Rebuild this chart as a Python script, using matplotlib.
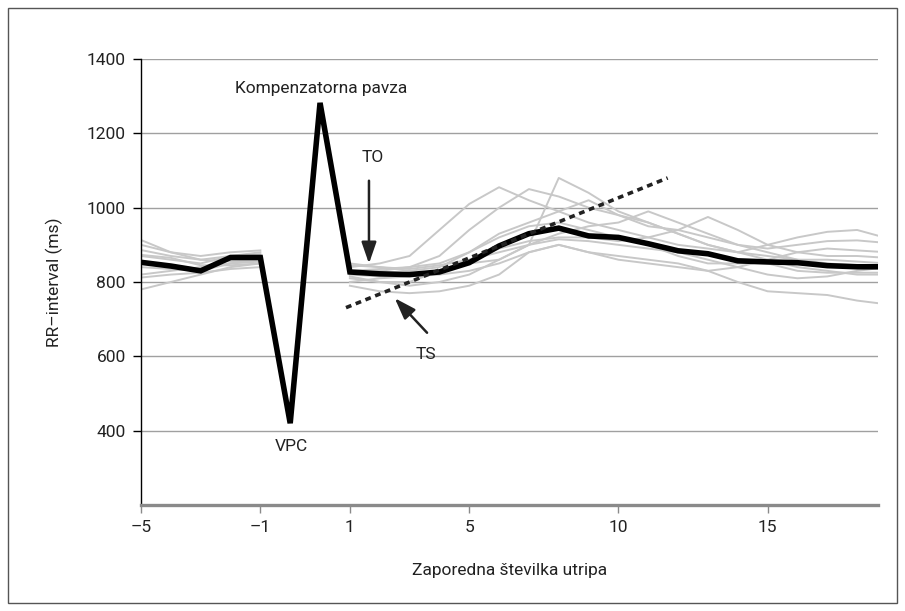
import numpy as np
import matplotlib.pyplot as plt
from matplotlib.patches import Rectangle

plt.rcParams['font.family'] = ['Roboto', 'DejaVu Sans']

# beat labels: 5 beats before VPC, VPC, compensatory pause, 19 beats after
pre_beats = [-5, -4, -3, -2, -1]
post_beats = list(range(1, 20))

# mean tachogram (black line): pre, VPC, pause, post
mean_pre = [853, 843, 830, 866, 866]
mean_vpc = 420
mean_pause = 1282
mean_post = [827, 822, 820, 827, 852, 897, 930, 945, 924, 920, 903, 884, 876,
             857, 854, 852, 844, 841, 841]

# individual tachograms (grey lines)
traces_pre = [
    [900, 880, 870, 880, 885],
    [870, 860, 850, 870, 875],
    [820, 830, 840, 850, 860],
    [913, 880, 860, 870, 880],
    [780, 800, 820, 840, 850],
    [850, 845, 835, 860, 865],
    [840, 835, 830, 850, 855],
    [812, 820, 825, 835, 840],
    [886, 870, 860, 855, 860],
    [873, 865, 845, 845, 850],
]
traces_post = [
    [840, 850, 870, 940, 1010, 1055, 1020, 990, 960, 940, 920, 900, 890, 880, 870, 860, 860, 855, 850],
    [830, 835, 840, 870, 940, 1000, 1050, 1030, 1000, 980, 960, 930, 900, 880, 900, 920, 935, 940, 918],
    [810, 800, 800, 830, 850, 860, 900, 1080, 1040, 990, 960, 930, 900, 880, 860, 840, 830, 820, 820],
    [850, 840, 830, 840, 880, 930, 960, 990, 1020, 980, 950, 940, 920, 900, 880, 860, 850, 845, 840],
    [790, 775, 770, 775, 790, 820, 880, 900, 880, 870, 860, 850, 830, 800, 775, 770, 765, 750, 740],
    [815, 800, 790, 800, 820, 860, 900, 930, 950, 960, 990, 960, 930, 900, 890, 900, 910, 912, 905],
    [820, 815, 820, 830, 860, 890, 910, 920, 920, 910, 920, 940, 975, 940, 900, 880, 870, 870, 865],
    [800, 810, 815, 820, 830, 850, 880, 900, 880, 860, 850, 840, 830, 840, 860, 880, 890, 885, 880],
    [845, 840, 835, 845, 860, 880, 900, 915, 910, 900, 890, 880, 860, 840, 820, 810, 815, 830, 840],
    [825, 830, 840, 850, 880, 920, 950, 960, 940, 920, 900, 870, 850, 850, 850, 830, 825, 825, 825],
]

tick_beats = [-5, -1, 1, 5, 10, 15]
tick_labels = ['–5', '–1', '1', '5', '10', '15']
y_ticks = [400, 600, 800, 1000, 1200, 1400]

# x position of a beat on the categorical axis (VPC and pause sit between -1 and 1)
def pos(b):
    return b + 5 if b < 0 else b + 6

x_pre = [pos(b) for b in pre_beats]
x_post = [pos(b) for b in post_beats]
x_vpc, x_pause = 5, 6

fig = plt.figure(figsize=(9.05, 6.11), dpi=100)
ax = fig.add_axes([0.1558, 0.1735, 0.9702 - 0.1558, 0.9034 - 0.1735])

grey = '#c8c8c8'
for tp, tq in zip(traces_pre, traces_post):
    ax.plot(x_pre, tp, color=grey, lw=1.4, zorder=2)
    ax.plot(x_post, tq, color=grey, lw=1.4, zorder=2)

mean_x = x_pre + [x_vpc, x_pause] + x_post
mean_y = mean_pre + [mean_vpc, mean_pause] + mean_post
ax.plot(mean_x, mean_y, color='black', lw=4, solid_joinstyle='miter', zorder=4)

# turbulence slope line
ts_x = [6.87, 17.65]
ts_y = [731, 1080]
ax.plot(ts_x, ts_y, color='#222222', lw=2.6, ls=(0, (1.6, 1.3)), zorder=5)

ax.annotate('', xy=(7.64, 842), xytext=(7.64, 1080),
            arrowprops=dict(arrowstyle='-|>,head_width=0.45,head_length=1.3',
                            color='#222222', lw=1.8), zorder=6)
ax.annotate('', xy=(8.44, 762), xytext=(9.65, 658),
            arrowprops=dict(arrowstyle='-|>,head_width=0.45,head_length=1.3',
                            color='#222222', lw=1.8), zorder=6)

fs = 12.5
ax.text(6.03, 1322, 'Kompenzatorna pavza', ha='center', va='center', fontsize=fs, color='#222222')
ax.text(7.75, 1135, 'TO', ha='center', va='center', fontsize=fs, color='#222222')
ax.text(9.55, 604, 'TS', ha='center', va='center', fontsize=fs, color='#222222')
ax.text(5.05, 357, 'VPC', ha='center', va='center', fontsize=fs, color='#222222')

ax.set_xlim(0, 24.7)
ax.set_ylim(200, 1400)
ax.set_xticks([pos(b) for b in tick_beats])
ax.set_xticklabels(tick_labels)
ax.set_yticks(y_ticks)
ax.grid(axis='y', color='#a0a0a0', lw=1)
ax.set_axisbelow(True)

for s in ['top', 'right']:
    ax.spines[s].set_visible(False)
ax.spines['left'].set_color('black')
ax.spines['left'].set_linewidth(1)
ax.spines['bottom'].set_color('#8a8a8a')
ax.spines['bottom'].set_linewidth(2.4)
ax.tick_params(axis='y', length=6, width=1, color='black', labelsize=fs, labelcolor='#222222', pad=5)
ax.tick_params(axis='x', length=6, width=1, color='#8a8a8a', labelsize=fs, labelcolor='#222222', pad=5)

ax.set_ylabel('RR–interval (ms)', fontsize=fs, color='#222222', labelpad=17)
ax.set_xlabel('Zaporedna številka utripa', fontsize=fs, color='#222222', labelpad=20)

fig.patches.append(Rectangle((8 / 905, 8 / 611), 889 / 905, 595 / 611, transform=fig.transFigure,
                             fill=False, edgecolor='#555555', lw=1))

fig.savefig('out.png', dpi=100)
